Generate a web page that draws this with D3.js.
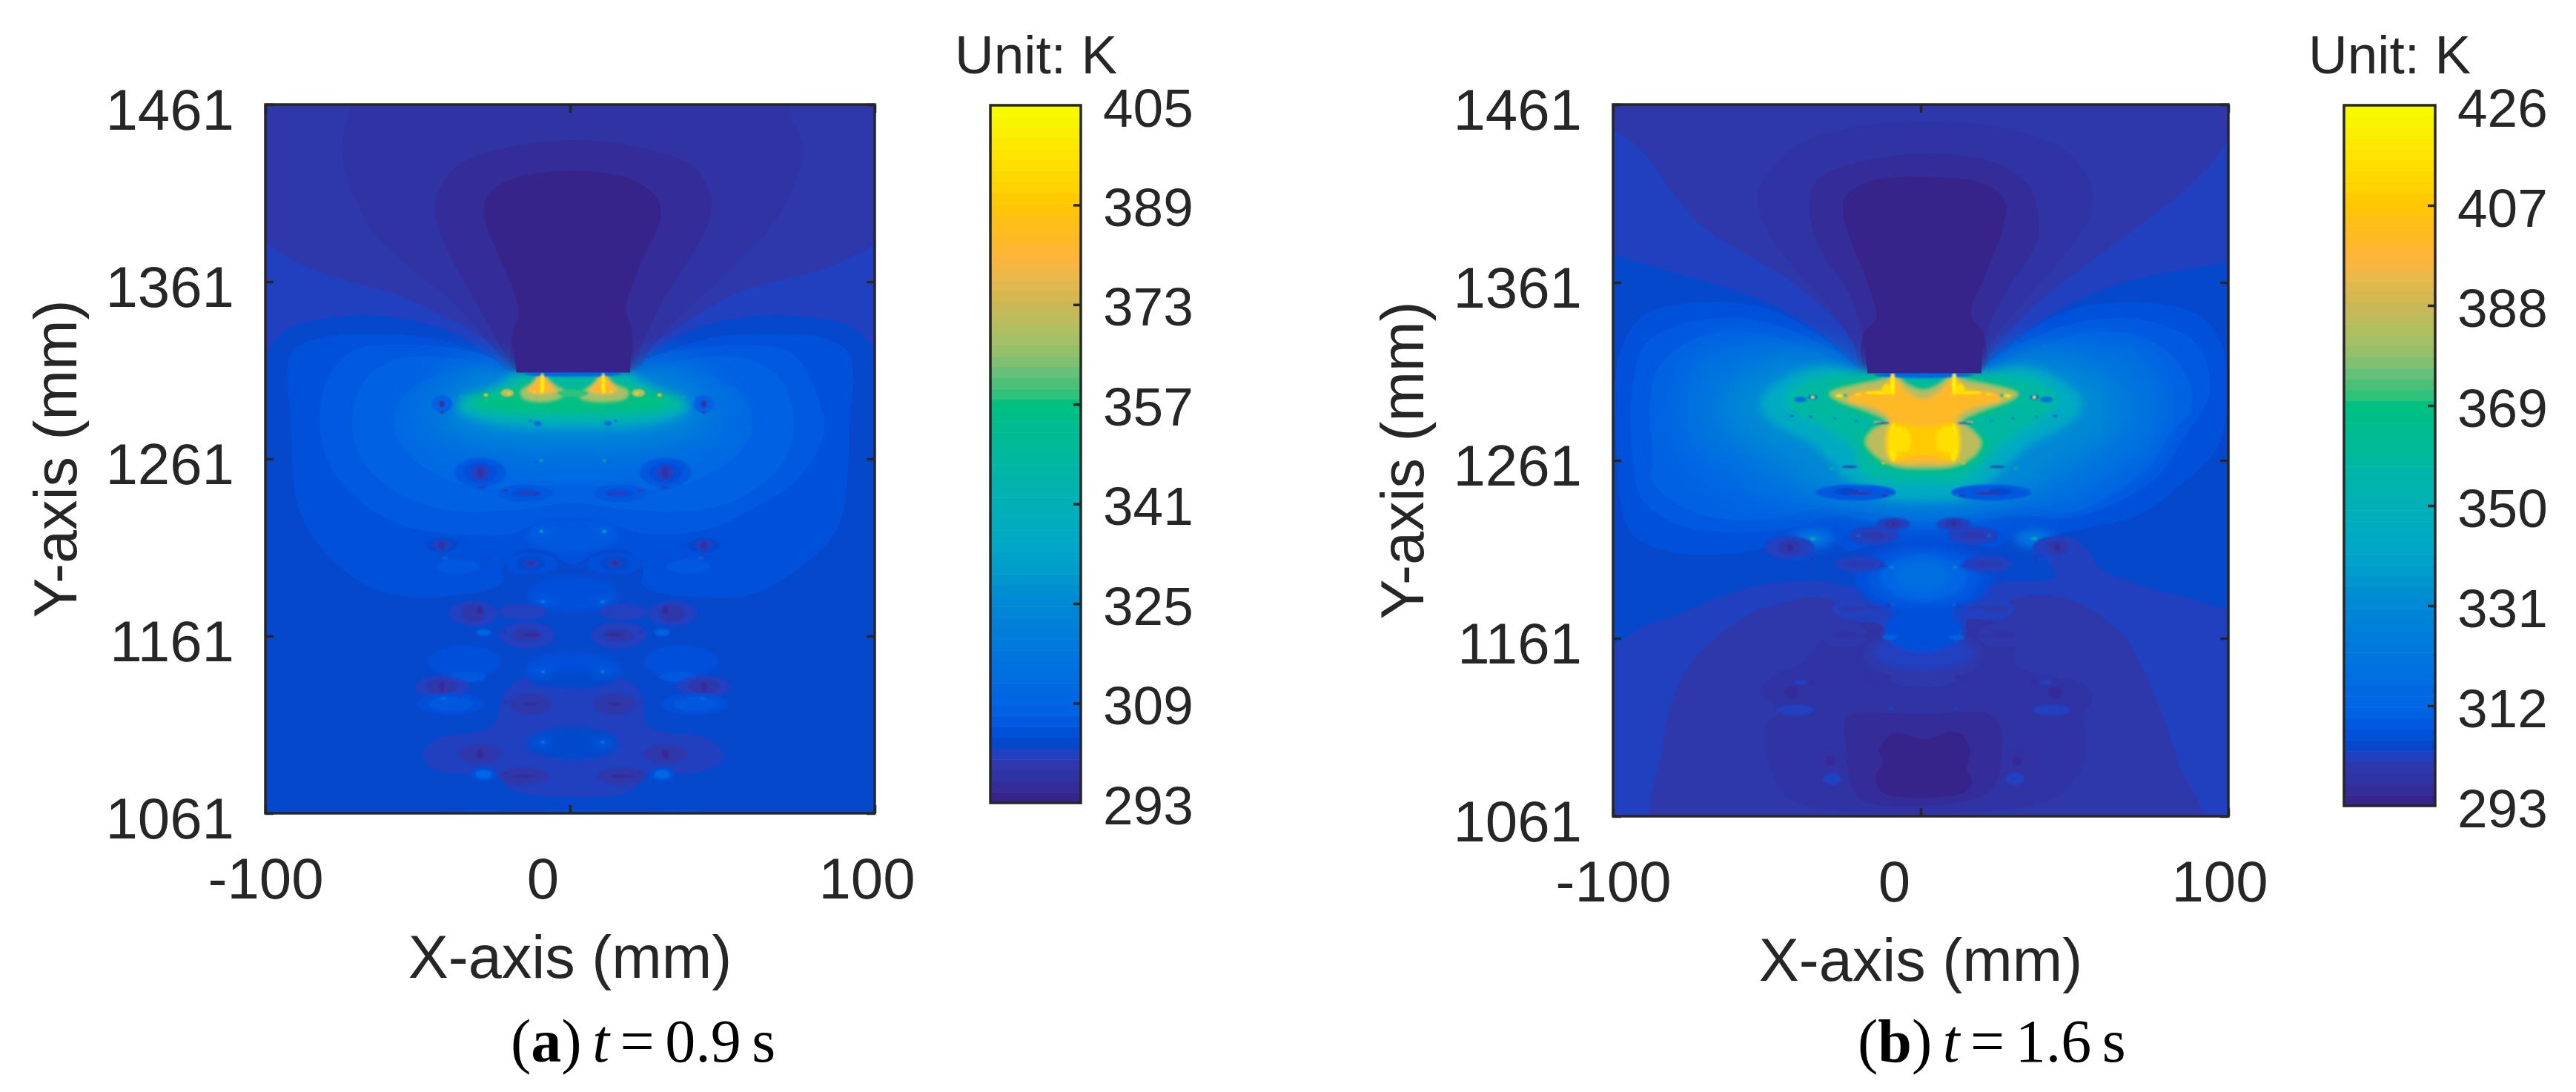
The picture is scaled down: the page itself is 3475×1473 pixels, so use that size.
<!DOCTYPE html>
<html>
<head>
<meta charset="utf-8">
<script src="https://cdn.jsdelivr.net/npm/d3@7"></script>
<style>
html, body { margin: 0; padding: 0; background: #fff; }
text { font-family: "Liberation Sans", Arial, sans-serif; fill: #262626; }
.caption { font-family: "Liberation Serif", "Times New Roman", serif; fill: #000; }
</style>
</head>
<body>
<svg id="chart" width="3475" height="1473"></svg>
<script>
"use strict";

// colour bar bands, bottom to top
var bandColors = ["#37248a","#342c98","#3033a4","#2e38aa","#2040bf","#0648cc","#0050da","#0059df","#0062e2","#0066e3",
    "#0069e2","#006de1","#0071e0","#0075de","#0079dc","#007dda","#0081d8","#0085d6","#0089d4","#008ed2",
    "#0096ce","#009ccb","#00a2c9","#00a7c6","#00aac2","#00adbe","#00afba","#00b0b6","#00b2b0","#00b4ab",
    "#00b6a6","#00b8a0","#00ba9a","#00bb94","#00bc8e","#00be88","#00c082","#2ec27a","#4cc078","#66c07a",
    "#80c070","#95c06a","#a5c068","#b0c060","#bcbc5c","#c8b858","#d5b850","#e0b850","#ecb848","#f8b640",
    "#ffb535","#ffb828","#ffbc1e","#ffc015","#ffc608","#ffcb00","#ffd200","#ffd800","#ffde00","#ffe400",
    "#fde900","#fbef00","#f9f500","#f8fb00"];

var xTicks = [-100, 0, 100];
var yTicks = [1461, 1361, 1261, 1161, 1061];
var barTicksA = [293, 309, 325, 341, 357, 373, 389, 405];
var barTicksB = [293, 312, 331, 350, 369, 388, 407, 426];

// the spots come in pairs either side of this x (mm)
var symmetryX = 0.9;

// panel a, contour regions: [temperature K, [[x mm, y mm], ...]]
var regionsA = [
    [300.9, [[-110,1310],[-100.1,1320.5],[-96.4,1328.9],[-91,1335.9],[-77.7,1340.8],[-64.3,1342.2],[-51,1338.7],[-37.7,1331.7],[-27,1320.5],[-19,1310],[19.7,1310],[27,1320.5],[37,1331.7],[50.4,1338.7],[65.1,1342.2],[78.4,1340.8],[91.8,1335.9],[100.2,1323.3],[110,1310],[110,1475],[-110,1475]]],
    [299.1, [[-110,1395],[-100.1,1383.3],[-91,1372.8],[-77.7,1363.8],[-57.7,1354],[-44.3,1344.3],[-29.6,1330.3],[-20.3,1315],[-17.6,1309.7],[19.7,1309.7],[23.7,1320.5],[37.1,1337.3],[55.8,1355.4],[82.5,1368],[100.2,1381.9],[110,1395],[110,1475],[-110,1475]]],
    [304.4, [[-18.3,1309.7],[-24.3,1315],[-33.6,1323.3],[-47,1329.6],[-64.3,1331.7],[-81.7,1329.6],[-91,1322],[-93,1305],[-92,1288],[-90,1239],[-86.4,1222.6],[-78.3,1204.4],[-66.8,1189.5],[-55.4,1183.8],[-38.1,1183.8],[-22.1,1191.2],[-22.1,1199.5],[-16.3,1209.4],[-7.1,1208.6],[0.9,1201.1],[8.9,1208.6],[18.1,1209.4],[23.9,1199.5],[23.9,1189.5],[42.2,1183],[59.4,1184.6],[76.7,1201.1],[87,1219.3],[90.2,1235.8],[92,1288],[93,1305],[91,1322],[82,1329.6],[64,1331.7],[47,1329.6],[34,1323],[25,1315],[19.7,1309.7]]],
    [306.1, [[-19,1309.7],[-25.7,1317.8],[-37.7,1323.3],[-53.7,1325.4],[-69.7,1323.3],[-76,1315],[-81,1300],[-81.8,1273.8],[-77.2,1252.4],[-66.8,1234.2],[-53,1222.6],[-42.7,1219.3],[-19.8,1218.5],[-9.4,1225.9],[0.9,1227.6],[11.2,1225.9],[22.7,1219.3],[44.5,1220.9],[59.4,1232.5],[74.4,1249],[83.5,1275.5],[82.4,1290.4],[76,1315],[70,1323],[54,1325],[38,1323],[26,1318],[20,1310]]],
    [307.9, [[-20,1310],[-28,1314],[-40,1318],[-55,1318],[-66,1308],[-71,1290],[-71,1272],[-66,1255],[-55,1240],[-40,1232],[-20,1232],[1,1236],[22,1232],[42,1232],[57,1240],[68,1255],[73,1272],[73,1290],[68,1308],[57,1318],[42,1318],[30,1314],[22,1310]]],
    [311.4, [[-20,1308],[-30,1310],[-44,1308],[-55,1296],[-58,1280],[-52,1262],[-38,1248],[-18,1244],[1,1247],[20,1244],[40,1248],[54,1262],[60,1280],[57,1296],[46,1308],[32,1310],[22,1308]]],
    [300.9, [[-48.5,1093.7],[-43.9,1102.8],[-25.5,1110.2],[-22.1,1126.7],[-16.3,1136.6],[18.1,1136.6],[23.9,1126.7],[25.6,1110.2],[45.7,1102.8],[50.8,1092],[41,1083.7],[23.9,1082.9],[20.4,1073.8],[-18.6,1073.8],[-24.4,1082.1],[-43.9,1085.4]]],
    [297.4, [[-72.3,1475],[-72.3,1459.3],[-74.8,1437.7],[-73,1419.6],[-65.7,1391.7],[-53.7,1370.8],[-41.7,1354],[-29.6,1333.1],[-21.6,1316.4],[-17.6,1309.7],[19.7,1309.7],[27.7,1326.1],[37,1343],[53,1368],[67.8,1396],[75.1,1423],[76.4,1437.7],[71.8,1459.3],[71.8,1475]]],
    [295.6, [[2.4,1440.8],[-21.6,1436.3],[-37.7,1425.2],[-44.3,1404.2],[-40.3,1379.1],[-32.3,1354],[-25.6,1333.1],[-20.3,1316.4],[-17.6,1309.7],[19.7,1309.7],[23.7,1326.1],[31.7,1354],[43.7,1387.5],[46.4,1404.2],[41.1,1425.2],[23.7,1436.3]]],
    [293.9, [[1.1,1423.8],[-19,1418.9],[-27,1409.8],[-28.3,1398.7],[-24.3,1379.1],[-19,1358.2],[-17,1342.9],[-19,1330.3],[-17.6,1309.7],[19.7,1309.7],[20.4,1330.3],[18.4,1347],[22.4,1368],[29.7,1397.3],[28.4,1408.4],[19.7,1418.9]]]
];

// broad glow, blurred most
var wideA = [
    [316.6, [[-19.2,1310.2],[-25.5,1316.8],[-35.8,1315.2],[-46.2,1302],[-50.8,1285.4],[-43.9,1270.5],[-25.5,1262.3],[0.9,1260.6],[27.3,1262.3],[45.7,1270.5],[52.6,1285.4],[48,1302],[37.6,1315.2],[27.3,1316.8],[21,1310.2]]],
    [325.4, [[-18.6,1310.2],[-24.4,1310.2],[-32.4,1303.6],[-39.3,1293.7],[-40.4,1285.4],[-32.4,1275.5],[-15.2,1270.5],[0.9,1269.7],[17,1270.5],[34.2,1275.5],[42.2,1285.4],[41,1293.7],[34.2,1303.6],[26.1,1310.2],[20.4,1310.2]]]
];

var glowA = [
    [335.9, [[-18,1309.4],[-22.1,1305.3],[-29,1298.6],[-35.8,1294.5],[-37,1288.7],[-27.8,1281.3],[0.9,1278],[29.6,1281.3],[38.8,1288.7],[37.6,1294.5],[30.7,1298.6],[23.9,1305.3],[19.8,1309.4]]],
    [348.1, [[-16.3,1308.6],[-19.8,1303.6],[-25.5,1299.5],[-34.7,1296.2],[-35.8,1291.2],[-25.5,1285.4],[0.9,1282.9],[27.3,1285.4],[37.6,1291.2],[36.4,1296.2],[27.3,1299.5],[21.6,1303.6],[18.1,1308.6]]],
    [356.9, [[-22.1,1300.3],[-30,1296.2],[-31.2,1292],[-18.6,1287.9],[0.9,1287],[20.4,1287.9],[33,1292],[31.9,1296.2],[23.9,1300.3],[16,1303],[0.9,1301],[-14,1303]]]
];

var hotA = [
    [367.4, [[-9.4,1309.4],[-12.9,1303.6],[-16.3,1299.5],[-15.8,1295.3],[-9.4,1292.9],[-3.1,1295.3],[-1.4,1298.6],[-5.4,1303.6]]],
    [367.4, [[10.8,1309.4],[7.4,1303.6],[3.7,1298.6],[3.2,1295.3],[10.8,1292.9],[18.6,1295.3],[19.2,1299.5],[14.7,1303.6]]],
    [381.4, [[-9.4,1309.4],[-11.7,1304.4],[-14,1299.5],[-9.4,1297.8],[-4.8,1299.5],[-7.1,1304.4]]],
    [381.4, [[10.8,1309.4],[8.4,1304.4],[6.2,1299.5],[10.8,1297.8],[15.4,1299.5],[13.2,1304.4]]]
];

// the block with the straight lower edge
var blockA = [[-17.6,1309.7],[19.7,1309.7],[20.4,1330],[-19,1330]];

// pairs of ellipses: [distance from symmetryX mm, y mm, rx mm, ry mm, temperature K]
var softSpotsA = [
    [10.3,1260,2.5,1.6,316.6],[10.3,1220.1,3.5,2.6,307.9],[9.8,1180.5,4,2.4,306.1],[9.8,1140.8,4,2.2,306.1],[9.8,1101,3.5,2.2,306.1]
];

var spotsA = [
    [0,1309,16,1.6,311.4],
    [10,1303.5,0.6,5.6,402.4],[10,1310.2,0.6,0.8,339.4],[12.6,1299,0.5,0.5,398.9],[10.6,1299,0.5,0.5,398.9],
    [0,1298,5,2,358],
    [21.5,1298.2,2.2,2.2,370.9],[21,1298,0.6,0.5,398.9],[28.5,1297,0.7,0.9,384.9],[36.5,1296,0.7,0.5,342.9],
    [43,1292,3.4,5,307.9],[43,1292,1,2,297.4],[43,1287.4,0.8,0.7,299.1],
    [11.5,1281,1.2,1.2,307.9],[14,1282.4,0.6,0.6,307.9],
    [10.3,1260,0.6,0.6,351.6],[12,1259,0.7,0.7,306.1],
    [30.4,1253.2,8.5,8.3,306.1],[30.4,1253.2,5.5,6,304.4],[30.4,1253.2,3,4.5,300.9],[30.4,1253.2,1,3,297.4],[30.2,1245,1.5,0.8,300.9],
    [15.5,1241.6,9,5,306.1],[15.5,1241.6,5,2.5,304.4],[15.5,1241.6,2.5,1.2,300.9],[12,1241,1,0.9,297.4],[22.2,1243.3,0.8,0.8,299.1],
    [10.3,1220.1,0.7,0.7,339.4],[12,1219.3,0.5,0.5,304.4],
    [37.9,1200.3,12,6,304.4],[37.9,1200.3,7,4,306.1],[42,1205,1,0.8,311.4],
    [43,1212.4,9,5.5,304.4],[43,1212.4,5.5,4,302.6],[43,1212.4,3,3,300.9],[43,1212.4,1,2.5,297.4],[43,1206.4,0.7,0.7,299.1],
    [37,1205.2,0.7,0.7,300.9],[28.7,1204.4,0.7,0.7,300.9],[22.2,1203.6,0.8,0.8,299.1],
    [13.8,1202,9,6,304.4],[13.8,1202,5,4,302.6],[13.8,1202,2.5,2.5,300.9],[13.8,1202,1.2,1,297.4],
    [9.8,1180.5,0.8,0.8,321.9],
    [32.7,1173.8,8,7,300.9],[32.7,1173.8,4,5,299.1],[30.4,1175.5,1,2.5,295.6],
    [16.6,1174.7,8,4.5,300.9],[15,1161.4,9,7.5,300.9],[15,1161.4,5,3.5,299.1],[13.8,1161.8,3,1,295.6],
    [22.2,1163.4,0.7,0.7,297.4],[29.3,1163,2.4,2,307.9],
    [35.6,1146.6,12,9,304.4],[34.4,1138,6,3,306.1],
    [9.8,1140.8,0.7,0.7,325.4],
    [43,1132.5,9,6,300.9],[43,1132.5,5,4,299.1],[43,1132.5,1,3,295.6],
    [40,1122.6,11,6,304.4],[40,1122.6,7,4,306.1],[42.5,1125.9,0.8,0.8,314.9],[37,1125.9,0.7,0.7,300.9],
    [13.8,1122.6,7,6,299.1],[13.8,1122.6,2.5,1,295.6],[22.2,1123.7,0.7,0.7,297.4],
    [9.8,1101,0.7,0.7,321.9],
    [30.4,1094.5,7,5.5,299.1],[30.4,1094.5,1.2,3,295.6],
    [16,1082,8,5,299.1],[16,1082,4,0.9,295.6],[21.8,1083.7,0.7,0.7,297.4],
    [29.3,1082.9,4,4,304.4],[29.3,1082.9,2.6,2.6,309.6],
    [0,1061,10,2,304.4],[33,1061,10,1.5,304.4]
];

// central lobes of panel a sit under the spots
var lobesA = [
    [0,1217.6,15,9,306.1],[0,1184.6,15,10,304.4],[0,1142,16,9,304.4],[0,1136.5,14,5,302.6],[0,1100.3,15,9,302.6]
];

// panel b
var regionsB = [
    [304.4, [[-110,1385],[-100,1376.7],[-84,1368.4],[-64.2,1358.6],[-47,1347.5],[-32.5,1332.3],[-23.2,1318.4],[-17.9,1310],[19.7,1310],[23,1318.4],[33.6,1332.3],[45.5,1346],[64,1360],[81.2,1367],[99.7,1372.5],[110,1378],[110,1180],[84.1,1185],[70.7,1191.5],[58.2,1200.6],[53.6,1212],[48,1217],[41.1,1207],[43.4,1195.6],[25.2,1192.3],[1,1180],[-30.5,1193],[-46.4,1192.3],[-60,1187.4],[-79.4,1174.2],[-94,1164],[-110,1145]]],
    [300.3, [[-110,1460],[-99.6,1447.5],[-90.6,1435],[-80,1410],[-69.5,1390.6],[-51,1371.2],[-37.8,1355.9],[-25.9,1336.4],[-19.3,1318.4],[-17.3,1310],[19.7,1310],[23,1321.1],[31,1337.8],[41.5,1354.5],[62.7,1382.3],[83.8,1410],[94.4,1428],[100,1441.3],[110,1475],[-110,1475]]],
    [306.5, [[-18,1310],[-24.5,1319.8],[-33.8,1332.3],[-47,1344.8],[-61.5,1349.6],[-77.4,1349],[-90.6,1342],[-98,1320],[-99,1270],[-94.2,1220.3],[-82.8,1210.4],[-68,1208],[-54.4,1210.4],[-40.7,1217],[-30.5,1217],[-23.7,1210.4],[-14.6,1213.7],[0.9,1215.4],[16.1,1213.7],[24.1,1212.1],[29.8,1217],[41.1,1218.7],[53.6,1222.8],[70.7,1230.2],[84.1,1246.7],[97,1270],[99,1320],[91,1342],[77.4,1349],[61.5,1349.6],[47,1344.8],[33.8,1332.3],[24.5,1319.8],[18,1310]]],
    [308.6, [[-18,1310],[-23,1317],[-32,1326],[-45.7,1336.4],[-61.5,1341.3],[-77.4,1337.8],[-89.3,1326.7],[-94,1300],[-94,1270],[-90.8,1240],[-79.4,1225.3],[-60,1220.3],[-40.7,1223.6],[-27.1,1230.2],[-16.9,1226.9],[0.9,1222],[19.5,1226.9],[30.9,1230.2],[48,1228.5],[65,1238.4],[78.7,1254.9],[84.1,1269.7],[94,1300],[90,1326],[77,1338],[61,1341],[46,1336],[32,1326],[23,1317],[18,1310]]],
    [310.7, [[-18,1310],[-23,1314],[-31,1320],[-45,1329],[-61,1333.6],[-75,1328],[-85.4,1312.8],[-88,1290],[-87,1262],[-87.4,1250],[-76,1233.5],[-57.8,1227],[-43,1230.2],[-30.5,1235],[-15.7,1231.8],[0.9,1226],[17.2,1231],[33.2,1235],[49.1,1231.8],[65,1245],[76.4,1261.5],[81,1276.3],[88,1290],[85,1313],[75,1328],[61,1333.6],[45,1329],[31,1320],[23,1314],[18,1310]]],
    [300.3, [[-85,1050],[-84,1100],[-77,1141],[-60,1170],[-43,1182],[-30.5,1183.6],[-14.6,1165],[16,1165],[30,1183],[48,1183],[66,1162],[78,1120],[84,1090],[92,1050]]],
    [298.2, [[-52.1,1131.4],[-46.4,1141.3],[-40.7,1144.6],[-30.5,1162.7],[-23.7,1169.3],[-12.3,1167.7],[-12.3,1154.5],[-14.6,1149.6],[-7.8,1135.6],[9.3,1135.6],[16.7,1149.6],[15,1171],[25.2,1169.3],[30.9,1162.7],[30.9,1146.2],[53.6,1134.7],[55.9,1126.5],[53.1,1118.3],[53.6,1096.9],[51.4,1085.3],[42.3,1070],[-41.9,1070],[-48.7,1088.6],[-50.4,1111.7],[-45.9,1120]]],
    [296.1, [[-24.3,1101.8],[-23.7,1116.6],[0.2,1118.3],[24.1,1116.6],[26.4,1095.2],[21.8,1074],[-16,1068],[-21.4,1074]]],
    [294, [[-13.5,1098.5],[-8.9,1107.6],[1.3,1104.3],[11.6,1108.4],[16.1,1098.5],[15,1087],[16.7,1080.4],[13.8,1074.2],[-12.3,1074.2],[-14.6,1083.7],[-12.3,1090.3]]],
    [298.2, [[1.9,1451.3],[-21.9,1448.2],[-41.7,1436.4],[-53,1411.4],[-51,1394.8],[-41.7,1369.8],[-29.9,1347.5],[-21.9,1326.7],[-18,1310],[19.7,1310],[23,1326.7],[33.6,1350.3],[44.2,1371.1],[54.8,1397.5],[55.4,1415.6],[48.1,1433.6],[28.3,1447.5]]],
    [296.1, [[1.9,1433.4],[-19.3,1428.8],[-33.8,1418.4],[-36.2,1401.7],[-32.5,1379.5],[-23.2,1354.5],[-19.3,1335],[-17.3,1310],[19.7,1310],[21.7,1335],[28.3,1357.3],[37.6,1383.6],[38.2,1398.9],[35,1415.6],[23,1428.8]]],
    [294, [[1.9,1420.5],[-16.6,1417.7],[-24.6,1408.6],[-25.2,1398.9],[-21.9,1380.9],[-16.6,1357.3],[-14.3,1340.6],[-18.6,1332.3],[-17.3,1310],[19.7,1310],[20.4,1332.3],[16.2,1343.4],[20.4,1362.8],[27,1393.4],[27.6,1405.9],[21.7,1415.6]]]
];

var wideB = [
    [314.8, [[-18,1310],[-26,1320],[-42,1327],[-62,1328],[-74,1320],[-81,1300],[-81,1272],[-70,1248],[-50,1235],[-30,1233],[1,1228],[32,1233],[50,1237],[65,1252],[77,1272],[80,1298],[74,1320],[62,1328],[42,1327],[26,1320],[18,1310]]],
    [321, [[-18,1310.9],[-30.5,1324],[-48.7,1325.7],[-71.5,1315.8],[-76,1296],[-74.9,1276.3],[-62.4,1258.2],[-47.6,1241.7],[-31.6,1235.2],[-14.6,1231.8],[1.3,1230.2],[17.2,1231.8],[33.2,1235.2],[49.2,1241.7],[65,1258.2],[76.4,1276.3],[77.5,1296],[73,1315.8],[49.1,1325.7],[32,1324],[19.5,1310.9]]],
    [331.4, [[-18.6,1310.9],[-30.5,1319.9],[-46.4,1317.4],[-61.2,1301],[-63.5,1284.5],[-55.5,1271.3],[-40.7,1254.9],[-33.9,1243.4],[-15.7,1235.2],[1.3,1232.7],[18.4,1235.2],[34.3,1243.4],[42.3,1254.9],[57.1,1271.3],[63.9,1284.5],[61.6,1301],[46.8,1317.4],[33.2,1319.9],[20.7,1310.9]]]
];

var glowB = [
    [343.9, [[-19.1,1310.9],[-30.5,1314.1],[-44.2,1307.6],[-52.1,1294.4],[-49.8,1284.5],[-33.9,1268.1],[-26,1253.2],[-12.3,1240.1],[1.3,1238.4],[15,1240.1],[26.4,1254.9],[34.3,1268.1],[50.2,1284.5],[52.5,1294.4],[44.5,1307.6],[32,1314.1],[20.7,1310.9]]],
    [358.4, [[-19.1,1310.9],[-29.4,1309.2],[-39.6,1304.3],[-43.6,1295.2],[-41.9,1288.6],[-31.6,1279.6],[-21.4,1266.4],[-19.7,1254.9],[-11.2,1249.1],[1.3,1248.3],[13.8,1249.1],[22.9,1263.1],[29.8,1274.6],[42.3,1288.6],[44.5,1295.2],[40,1304.3],[29.8,1309.2],[20.7,1310.9]]]
];

var hotB = [
    [368.8, [[-9.1,1310.9],[-12.3,1309.2],[-18,1306.7],[-27.1,1303.4],[-31,1297.7],[-26,1291.1],[-15.7,1284.5],[-12.9,1282],[-16.9,1278.8],[-19.7,1271.3],[-16.9,1263.1],[-10,1256.2],[1.3,1254.1],[12.7,1256.2],[19.5,1263.1],[21.2,1271.3],[17.8,1278.8],[15,1282],[18.4,1284.5],[28.1,1291.1],[32.6,1297.7],[28.1,1303.4],[19.5,1306.7],[13.8,1309.2],[10.8,1310.9],[5.9,1305.1],[0.9,1302.9],[-4.3,1305.1]]],
    [385.4, [[-9.1,1310],[-11.7,1306.7],[-20.3,1303.4],[-29.4,1298.5],[-27.1,1295.2],[-16.9,1288.6],[-11.2,1283.2],[-15.7,1277.9],[-17.8,1271.3],[-15.2,1264.8],[-8.9,1258.5],[1.3,1256.9],[11.6,1258.5],[17.8,1264.8],[19.5,1271.3],[16.7,1277.9],[13.3,1283.2],[19,1288.6],[29.2,1295.2],[31.5,1298.5],[21.8,1303.4],[13.3,1306.7],[10.8,1310],[5.9,1303.4],[0.9,1300.2],[-4.3,1303.4]]],
    [400, [[-9.1,1307.6],[-12.3,1301.8],[-21.4,1298.5],[-23.7,1295.2],[-14.6,1290.3],[-10,1284.5],[-10,1261.5],[1.3,1259.8],[11,1261.5],[11.6,1284.5],[16.1,1290.3],[26.4,1295.2],[24.1,1298.5],[14.4,1301.8],[11,1307.6],[5.9,1299.3],[0.9,1295.2],[-4.3,1299.3]]],
    [408.3, [[-10,1281.2],[1.3,1279.6],[11.6,1281.2],[11.6,1261.5],[1.3,1265],[-10,1261.5]]]
];

var blockB = [[-17.3,1310],[19.7,1310],[20.4,1332],[-18.6,1332]];

var softSpotsB = [
    [36,1217,7,5.5,316.9],[36,1217,3.5,2.8,325],[30,1256.5,2.5,1.8,327.3]
];

var lobesB = [
    [0,1194.8,22,20.6,306.5],[0,1194.8,18,17,308.6],[0,1195,14,13,312.7],[0,1196,9,9,316.9],
    [0,1152,19,16.5,300.3],[0,1153,16,10,302.4],[0,1166,12.5,13,306.5]
];

var spotsB = [
    [0,1309,16,1.6,314.8],
    [10,1304,0.7,6.5,422.9],[10,1310.6,0.6,0.8,348],[14,1299,5,0.9,418.7],[12,1301,1.4,3,414.5],
    [9.8,1271,1.5,10.5,418.7],[7.5,1272,3.5,8,414.5],[0,1265,9,1,408.3],
    [15,1282.5,1.2,0.6,400],[13,1259.5,0.7,0.7,400],[9.8,1260,0.6,0.6,400],
    [27.4,1297.3,1.1,0.9,418.7],[21.2,1298,1,0.6,414.5],[25.5,1297.5,0.7,0.6,356.4],
    [36,1296.5,1.4,1.2,304.4],[36,1296.5,0.6,0.8,420],[40,1295.2,2,1.5,314.8],[42.8,1294.4,0.5,0.5,358.4],
    [42.8,1286,0.7,0.5,306.5],[36.7,1285.5,0.5,0.5,306.5],[28.9,1284.5,0.5,0.5,306.5],[22,1283.2,0.5,0.5,312.7],[13.5,1282,2.5,0.5,304.4],
    [24,1257.4,2.5,0.6,300.3],[30,1256.5,0.7,0.7,364.7],
    [22,1243,13,4.5,308.6],[25,1243.4,4,2,304.4],[20.6,1242.5,4,1,300.3],[12.6,1241.4,1.2,0.6,298.2],[11,1241.4,0.6,0.5,323.1],
    [36,1217,1,0.8,348],
    [9.8,1225.3,5.5,3.5,302.4],[9.8,1225.3,2.5,2.5,300.3],[9.8,1225.3,0.7,1.5,296.1],
    [16,1218.7,8,5,302.4],[16,1218.7,4,2,300.3],[21.2,1218.7,0.6,0.6,314.8],
    [43.5,1212,8,6.5,302.4],[43.5,1212,3.5,4,300.3],[43.5,1212,1,2,296.1],
    [36.5,1205.5,0.8,0.6,298.2],[40,1205.5,3,0.8,306.5],
    [21,1202.7,8,4.5,302.4],[21,1202.7,5,1.2,300.3],[13.2,1201.4,1.2,0.6,298.2],[10.3,1201,0.8,0.7,331.4],
    [23.4,1177.5,6,6,302.4],[23.4,1177.5,4,1.5,300.3],[17,1178.6,4,0.8,300.3],[11.5,1179.2,1,0.7,298.2],[9.8,1180,0.6,0.6,319],
    [25.7,1162.7,8,7,300.3],[25.7,1162.7,4,2,298.2],[17.7,1162.4,4,0.8,298.2],[12.6,1162,1,0.7,298.2],[11,1161.6,2.5,1.5,310.7],
    [15.5,1139,3,2.5,298.2],[11.5,1139.5,1,0.8,296.1],[36,1136.4,0.8,0.7,296.1],[40,1136.4,2,1.5,302.4],
    [42.8,1130.6,2.2,3,296.1],[41.6,1120.7,6,3,302.4],[10.7,1121.6,1,1,302.4],
    [30.3,1092,5,6,298.2],[30.3,1092,1.5,3,296.1],[29.7,1082,3,3.5,302.4],[29.7,1082,1,1,304.4]
];

var panels = [
    {regions: regionsA, wide: wideA, glow: glowA, hot: hotA, block: blockA, lobes: lobesA, softSpots: softSpotsA, spots: spotsA, base: 302.6,
     left: 358, right: 1180, top: 141, bottom: 1097, zeroShift: -37, hundredShift: -11,
     barLeft: 1336, barRight: 1458, barTop: 142, barBottom: 1083, barTicks: barTicksA, barLabelX: 1488,
     yTitleX: 103, unitX: 1288, captionX: 689, label: "a", time: "0.9"},
    {regions: regionsB, wide: wideB, glow: glowB, hot: hotB, block: blockB, lobes: lobesB, softSpots: softSpotsB, spots: spotsB, base: 302.4,
     left: 2176, right: 3006, top: 141, bottom: 1101, zeroShift: -36, hundredShift: -12,
     barLeft: 3162, barRight: 3285, barTop: 142, barBottom: 1087, barTicks: barTicksB, barLabelX: 3315,
     yTitleX: 1920, unitX: 3114, captionX: 2506, label: "b", time: "1.6"}
];

var svg = d3.select("#chart");
var defs = svg.append("defs");

[["wide", 18], ["soft", 6], ["mid", 2], ["lobe", 3], ["fine", 0.9]].forEach(function (f) {
    defs.append("filter").attr("id", f[0])
        .attr("x", "-20%").attr("y", "-20%").attr("width", "140%").attr("height", "140%")
        .append("feGaussianBlur").attr("stdDeviation", f[1]);
});

function drawPanel(p, index) {
    var x = d3.scaleLinear().domain([-100, 100]).range([p.left, p.right]);
    var y = d3.scaleLinear().domain([1061, 1461]).range([p.bottom, p.top]);
    var ticks = p.barTicks;
    var colour = d3.scaleQuantize().domain([ticks[0], ticks[ticks.length - 1]]).range(bandColors);

    var smooth = d3.line().x(function (d) { return x(d[0]); }).y(function (d) { return y(d[1]); })
        .curve(d3.curveCatmullRomClosed.alpha(0.5));
    var straight = d3.line().x(function (d) { return x(d[0]); }).y(function (d) { return y(d[1]); })
        .curve(d3.curveLinearClosed);

    defs.append("clipPath").attr("id", "plot" + index).append("rect")
        .attr("x", p.left).attr("y", p.top)
        .attr("width", p.right - p.left).attr("height", p.bottom - p.top);

    var plot = svg.append("g").attr("clip-path", "url(#plot" + index + ")");

    plot.append("rect")
        .attr("x", p.left).attr("y", p.top)
        .attr("width", p.right - p.left).attr("height", p.bottom - p.top)
        .attr("fill", colour(p.base));

    function addRegions(list, filter) {
        var g = plot.append("g");
        if (filter) { g.attr("filter", "url(#" + filter + ")"); }
        g.selectAll("path").data(list).enter().append("path")
            .attr("d", function (d) { return smooth(d[1]); })
            .attr("fill", function (d) { return colour(d[0]); });
    }

    // every spot is drawn on both sides of the symmetry line
    function addSpots(list, filter) {
        var spotData = [];
        list.forEach(function (s) {
            spotData.push({x: symmetryX - s[0], y: s[1], rx: s[2], ry: s[3], t: s[4]});
            spotData.push({x: symmetryX + s[0], y: s[1], rx: s[2], ry: s[3], t: s[4]});
        });
        plot.append("g").attr("filter", "url(#" + filter + ")")
            .selectAll("ellipse").data(spotData).enter().append("ellipse")
            .attr("cx", function (d) { return x(d.x); })
            .attr("cy", function (d) { return y(d.y); })
            .attr("rx", function (d) { return x(d.rx) - x(0); })
            .attr("ry", function (d) { return y(1061) - y(1061 + d.ry); })
            .attr("fill", function (d) { return colour(d.t); });
    }

    addRegions(p.regions);
    addRegions(p.wide, "wide");
    addRegions(p.glow, "soft");
    addRegions(p.hot, "mid");
    addSpots(p.lobes, "lobe");
    addSpots(p.softSpots, "soft");
    addSpots(p.spots, "fine");

    plot.append("path").attr("d", straight(p.block)).attr("fill", colour(293.9));

    // inward ticks on all four sides
    var tickLen = 11;
    function styleAxis(g) {
        g.selectAll(".domain").remove();
        g.selectAll(".tick line").attr("stroke", "#262626").attr("stroke-width", 3.5);
    }
    var bottomAxis = svg.append("g").attr("transform", "translate(0," + p.bottom + ")")
        .call(d3.axisBottom(x).tickValues(xTicks).tickSize(-tickLen).tickFormat(String));
    bottomAxis.call(styleAxis);
    bottomAxis.selectAll(".tick text")
        .attr("y", 115).attr("dy", 0)
        .attr("font-size", 78).attr("font-family", "Liberation Sans")
        .attr("dx", function (d) { return d === 0 ? p.zeroShift : d === 100 ? p.hundredShift : 0; });

    svg.append("g").attr("transform", "translate(0," + p.top + ")")
        .call(d3.axisTop(x).tickValues(xTicks).tickSize(-tickLen).tickFormat(""))
        .call(styleAxis);

    var leftAxis = svg.append("g").attr("transform", "translate(" + p.left + ",0)")
        .call(d3.axisLeft(y).tickValues(yTicks).tickSize(-tickLen).tickFormat(String));
    leftAxis.call(styleAxis);
    leftAxis.selectAll(".tick text")
        .attr("x", -42).attr("dy", 33)
        .attr("font-size", 78).attr("font-family", "Liberation Sans");

    svg.append("g").attr("transform", "translate(" + p.right + ",0)")
        .call(d3.axisRight(y).tickValues(yTicks).tickSize(-tickLen).tickFormat(""))
        .call(styleAxis);

    svg.append("rect")
        .attr("x", p.left).attr("y", p.top)
        .attr("width", p.right - p.left).attr("height", p.bottom - p.top)
        .attr("fill", "none").attr("stroke", "#262626").attr("stroke-width", 3.5);

    svg.append("text").attr("x", (p.left + p.right) / 2).attr("y", p.bottom + 222)
        .attr("text-anchor", "middle").attr("font-size", 81).text("X-axis (mm)");

    var midY = (p.top + p.bottom) / 2;
    svg.append("text").attr("transform", "translate(" + p.yTitleX + "," + midY + ") rotate(-90)")
        .attr("text-anchor", "middle").attr("font-size", 81).text("Y-axis (mm)");

    // colour bar, one rect for each band
    var barY = d3.scaleLinear().domain([ticks[0], ticks[ticks.length - 1]]).range([p.barBottom, p.barTop]);
    var bandStep = (barY.domain()[1] - barY.domain()[0]) / bandColors.length;
    svg.append("g").selectAll("rect").data(bandColors).enter().append("rect")
        .attr("x", p.barLeft).attr("width", p.barRight - p.barLeft)
        .attr("y", function (d, i) { return barY(ticks[0] + (i + 1) * bandStep); })
        .attr("height", function (d, i) { return barY(ticks[0] + i * bandStep) - barY(ticks[0] + (i + 1) * bandStep) + 0.5; })
        .attr("fill", function (d) { return d; });

    var barAxis = svg.append("g").attr("transform", "translate(" + p.barRight + ",0)")
        .call(d3.axisRight(barY).tickValues(ticks).tickSize(-10).tickFormat(String));
    barAxis.call(styleAxis);
    barAxis.selectAll(".tick text")
        .attr("x", p.barLabelX - p.barRight).attr("dy", 28)
        .attr("text-anchor", "start").attr("font-size", 73).attr("font-family", "Liberation Sans");
    barAxis.selectAll(".tick line")
        .attr("display", function (d) { return d === ticks[0] || d === ticks[ticks.length - 1] ? "none" : null; });

    svg.append("rect")
        .attr("x", p.barLeft).attr("y", p.barTop)
        .attr("width", p.barRight - p.barLeft).attr("height", p.barBottom - p.barTop)
        .attr("fill", "none").attr("stroke", "#262626").attr("stroke-width", 3.5);

    svg.append("text").attr("x", p.unitX).attr("y", 99).attr("font-size", 73).text("Unit: K");

    var cap = svg.append("text").attr("class", "caption")
        .attr("x", p.captionX).attr("y", 1432)
        .attr("font-size", 82).attr("word-spacing", -6);
    cap.append("tspan").text("(");
    cap.append("tspan").attr("font-weight", "bold").text(p.label);
    cap.append("tspan").text(") ");
    cap.append("tspan").attr("font-style", "italic").text("t");
    cap.append("tspan").text(" = " + p.time + " s");
}

panels.forEach(drawPanel);
</script>
</body>
</html>
